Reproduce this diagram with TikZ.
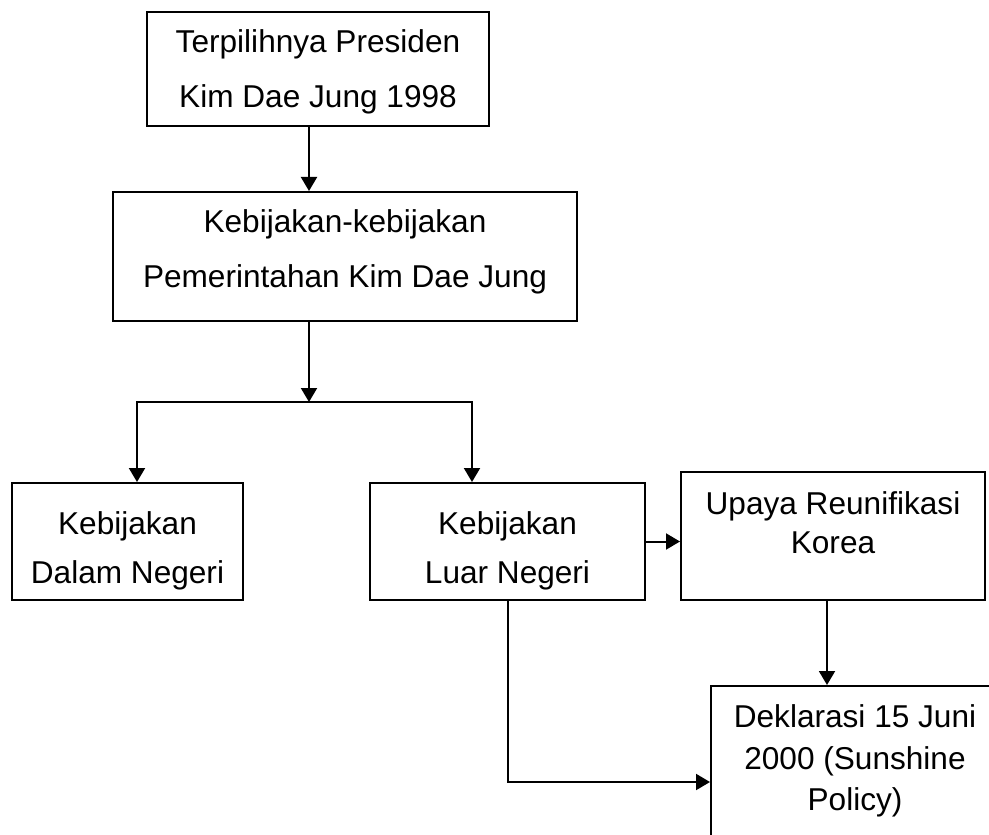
\documentclass[tikz,border=0pt]{standalone}
\usepackage{fontspec}
\setmainfont{Liberation Sans}
\usetikzlibrary{arrows.meta}

\tikzset{
  box/.style={draw, line width=1pt, inner sep=0pt, align=center},
  >={Triangle[length=7pt,width=8pt]},
}

\begin{document}
\begin{tikzpicture}[x=0.5pt, y=-0.5pt, line width=1pt]
\useasboundingbox (0,0) rectangle (989,834);

\node [box, minimum width=171pt, minimum height=57pt, font=\fontsize{15.8}{27.5}\selectfont, text depth=0.3pt] (pres) at (318,69) {Terpilihnya Presiden\\Kim Dae Jung 1998};
\node [box, minimum width=232pt, minimum height=64.5pt, font=\fontsize{15.8}{27.5}\selectfont, text depth=8pt] (pol) at (345,256.5) {Kebijakan-kebijakan\\Pemerintahan Kim Dae Jung};
\node [box, minimum width=115.5pt, minimum height=58.5pt, font=\fontsize{15.8}{24.5}\selectfont, text height=45.5pt] (dalam) at (127.5,541.5) {Kebijakan\\Dalam Negeri};
\node [box, minimum width=137.5pt, minimum height=58.5pt, font=\fontsize{15.8}{24.5}\selectfont, text height=45.5pt] (luar) at (507.5,541.5) {Kebijakan\\Luar Negeri};
\node [box, minimum width=152pt, minimum height=64pt, font=\fontsize{15.8}{19.5}\selectfont, text depth=13pt] (upaya) at (833,536) {Upaya Reunifikasi\\Korea};
\node [box, minimum width=144pt, minimum height=75pt, font=\fontsize{15.8}{20.75}\selectfont] (dekl) at (855,761) {Deklarasi 15 Juni\\2000 (Sunshine\\Policy)};

\coordinate (spine) at (309,0);
\coordinate (split) at (309,402);
\coordinate (lbr) at (137,402);
\coordinate (rbr) at (472,402);
\coordinate (drop) at (827,0);
\coordinate (foot) at (508,782);

\draw [->] (pres.south -| spine) -- (pol.north -| spine);
\draw [->] (pol.south -| spine) -- (split);
\draw [->] (split) -| (dalam.north -| lbr);
\draw [->] (split) -| (luar.north -| rbr);

\draw [->] (luar.east) -- (luar.east -| upaya.west);
\draw [->] (upaya.south -| drop) -- (dekl.north -| drop);
\draw [->] (luar.south) |- (dekl.west |- foot);
\end{tikzpicture}
\end{document}
